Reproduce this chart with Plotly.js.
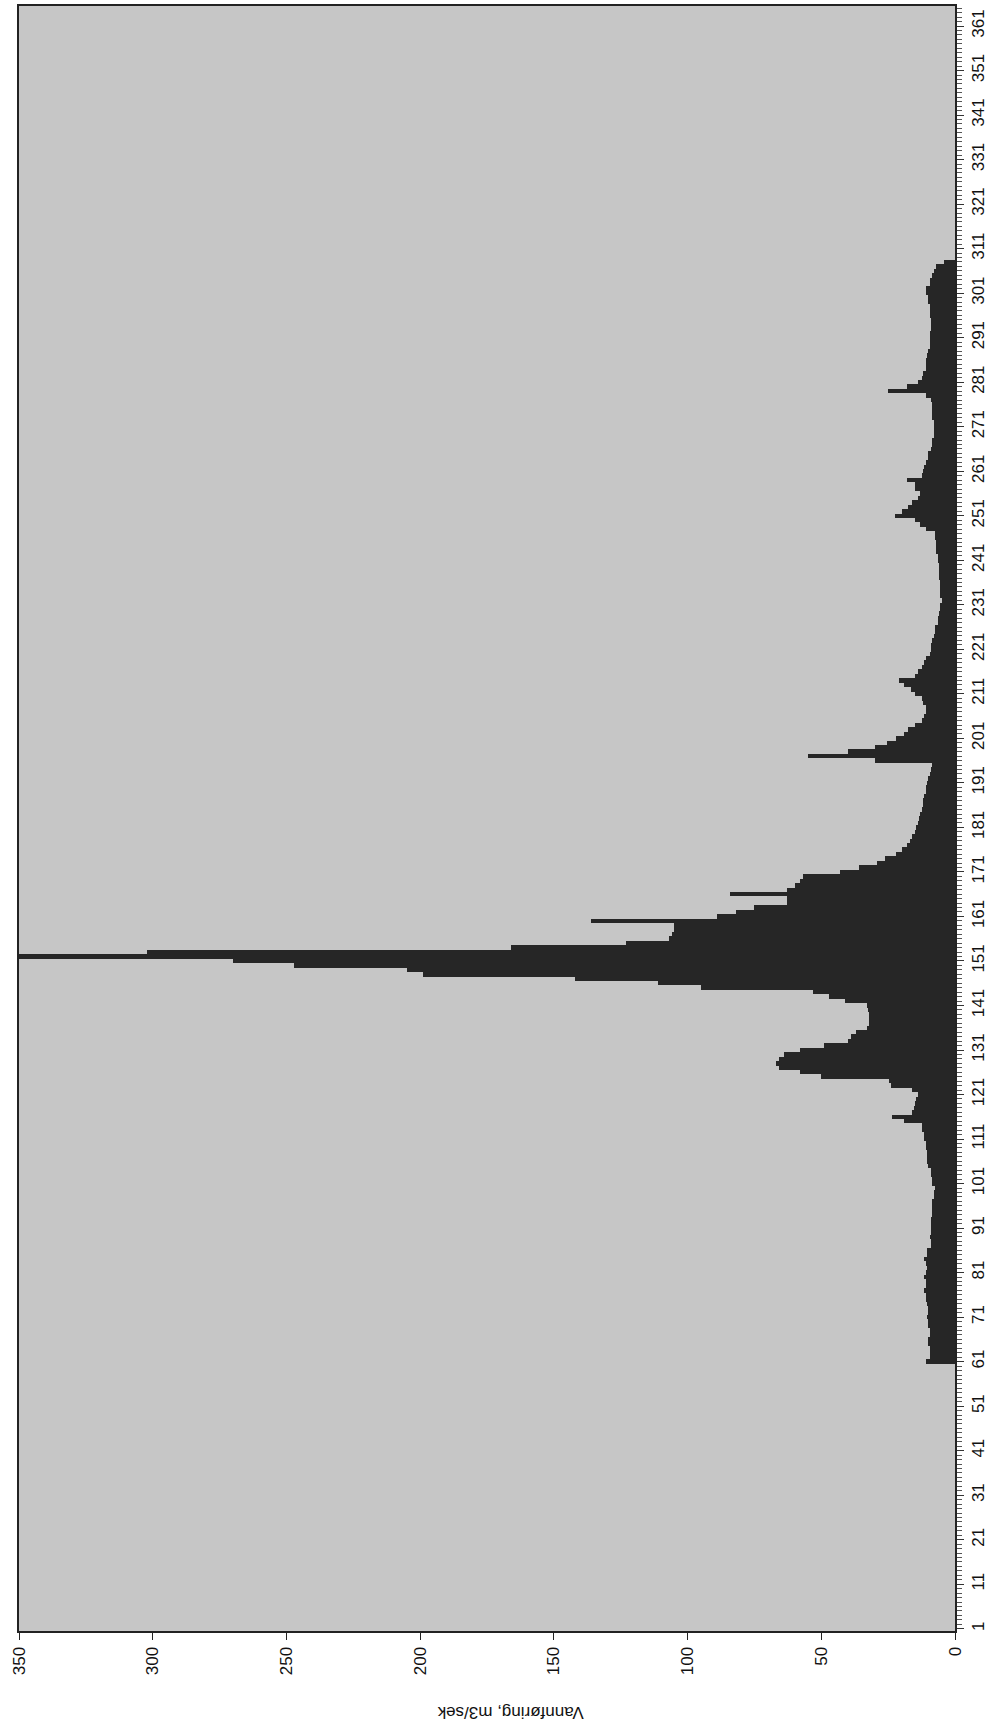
<!DOCTYPE html>
<html>
<head>
<meta charset="utf-8">
<script src="https://cdn.plot.ly/plotly-3.0.1.min.js"></script>
<style>
html,body{margin:0;padding:0;background:#ffffff;}
#chart{width:1001px;height:1727px;}
</style>
</head>
<body>
<div id="chart"></div>
<script>
// Day of year of the first flow value
const firstDay = 61;
// Daily discharge (Vannføring, m3/sek), days 61..308
const flows = [
 11, 9.5, 9.5, 9.5, 10, 10, 9.5, 9.5, 10, 10,            // 61-70
 10.5, 10, 10, 10.5, 11, 11, 11.5, 11, 11, 11.5,         // 71-80
 11, 10.5, 11, 11.5, 10.5, 10.5, 9, 9, 9.5, 9,           // 81-90
 9, 9, 9, 8.5, 8.5, 8.5, 8.5, 8, 8, 7.5,                 // 91-100
 8.5, 8.5, 9, 9, 10, 10.5, 10.5, 10.5, 11, 11,           // 101-110
 11.5, 11.5, 12.5, 12.5, 19, 23.5, 16, 15.5, 15, 14.5,   // 111-120
 14, 16, 24, 24.5, 50, 58, 66, 67, 66, 64,               // 121-130
 58, 49, 40, 39, 37, 33, 32, 32, 32, 32.5,               // 131-140
 33, 41, 47, 53, 95, 111, 142, 199, 205, 247,            // 141-150
 270, 420, 302, 166, 123, 107, 106, 105, 105, 136,       // 151-160
 89, 82, 75, 63, 63, 84, 63, 60, 58, 57,                 // 161-170
 43, 36, 29, 26, 22, 20, 18, 17, 16, 15,                 // 171-180
 14.5, 14, 13.5, 13, 12.5, 12, 12, 11.5, 11, 11,         // 181-190
 10.5, 10, 9.5, 9, 8.5, 30, 55, 40, 30, 25.5,            // 191-200
 22, 19, 17.5, 15, 12.5, 11.5, 11, 11, 12, 12.5,         // 201-210
 15, 16.5, 19, 21, 15, 14, 12.5, 11.5, 11, 9.5,          // 211-220
 9, 9, 8.5, 8, 7.5, 7.5, 6.5, 6.5, 6, 5.5,               // 221-230
 5.5, 5, 5.5, 5.5, 5.5, 5.5, 6, 6, 6, 6,                 // 231-240
 6.5, 6.5, 7, 7, 7, 7.5, 7.5, 11, 13, 15,                // 241-250
 22.5, 20, 17.5, 16, 14, 13, 15, 15, 18, 12.5,           // 251-260
 12, 11.5, 11, 10, 10, 9, 8.5, 8.5, 8, 8,                // 261-270
 8, 8, 8.5, 8.5, 8.5, 8.5, 9, 11, 25, 18,                // 271-280
 14, 12.5, 12, 11, 11, 11, 10.5, 10, 9.5, 9.5,           // 281-290
 9.5, 9.5, 9, 9, 9, 9.5, 9.5, 9.5, 10, 10,               // 291-300
 11, 11, 9.5, 9.5, 8.5, 8, 7, 4                          // 301-308
];
const days = flows.map((_, i) => firstDay + i);

// Tick labels
const dayTicks = [1,11,21,31,41,51,61,71,81,91,101,111,121,131,141,151,161,171,181,191,
                  201,211,221,231,241,251,261,271,281,291,301,311,321,331,341,351,361];
const flowTicks = [0,50,100,150,200,250,300,350];
const axisTitle = 'Vannføring, m3/sek';

const fontFam = 'Liberation Sans, Arial, sans-serif';

const trace = {
  type: 'bar',
  orientation: 'h',
  x: flows,
  y: days,
  width: 1,
  marker: {color: '#262626', line: {width: 0}},
  hoverinfo: 'skip'
};

const layout = {
  width: 1001,
  height: 1727,
  margin: {l: 19, r: 46, t: 6, b: 96, pad: 0},
  paper_bgcolor: '#ffffff',
  plot_bgcolor: '#c6c6c6',
  showlegend: false,
  bargap: 0,
  xaxis: {
    range: [350, 0],
    tickmode: 'array',
    tickvals: flowTicks,
    ticktext: flowTicks.map(String),
    tickangle: -90,
    ticks: 'outside',
    ticklen: 7,
    tickcolor: '#222',
    showline: true,
    mirror: true,
    linecolor: '#222',
    linewidth: 2,
    showgrid: false,
    zeroline: false,
    tickfont: {family: fontFam, size: 17, color: '#111'}
  },
  yaxis: {
    side: 'right',
    range: [0.5, 365.5],
    tickmode: 'array',
    tickvals: dayTicks,
    ticktext: dayTicks.map(String),
    tickangle: -90,
    ticks: 'outside',
    ticklen: 7,
    tickcolor: '#333',
    minor: {tickmode: 'linear', tick0: 1, dtick: 1, ticks: 'outside', ticklen: 5, tickcolor: '#555', showgrid: false},
    showline: true,
    mirror: true,
    linecolor: '#222',
    linewidth: 2,
    showgrid: false,
    zeroline: false,
    tickfont: {family: fontFam, size: 17, color: '#111'}
  },
  annotations: [{
    text: axisTitle,
    xref: 'paper', yref: 'paper',
    x: 0.525, y: -0.05,
    xanchor: 'center', yanchor: 'middle',
    textangle: 180,
    showarrow: false,
    font: {family: fontFam, size: 17, color: '#111'}
  }]
};

Plotly.newPlot('chart', [trace], layout, {staticPlot: true, displayModeBar: false});
</script>
</body>
</html>
